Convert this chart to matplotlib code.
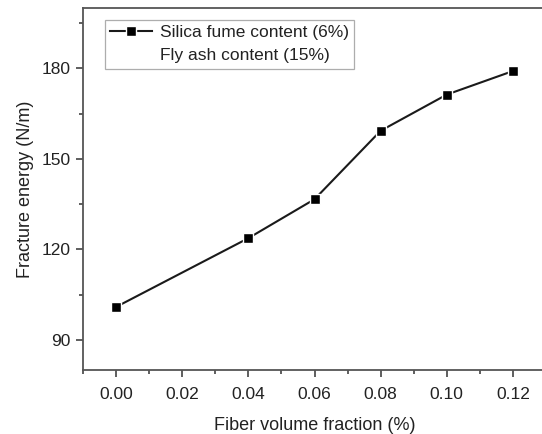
import matplotlib.pyplot as plt
from matplotlib.lines import Line2D
from matplotlib.ticker import MultipleLocator

plt.rcParams['font.family'] = ['Liberation Sans', 'DejaVu Sans']

# Data
fiber_fraction = [0.00, 0.04, 0.06, 0.08, 0.10, 0.12]
fracture_energy = [100.9, 123.7, 136.6, 159.3, 171.3, 179.1]
series_label = "Silica fume content (6%)"
extra_label = "Fly ash content (15%)"

fig = plt.figure(figsize=(5.42, 4.34), dpi=100)
ax = fig.add_axes([83 / 542, 64 / 434, 463 / 542, 362 / 434])

ax.plot(fiber_fraction, fracture_energy, color='#1a1a1a', lw=1.5,
        marker='s', ms=7.5, mfc='black', mec='white', mew=1.0,
        label=series_label)

ax.set_xlim(-0.01, 0.13)
ax.set_ylim(80, 200)
ax.xaxis.set_major_locator(MultipleLocator(0.02))
ax.xaxis.set_minor_locator(MultipleLocator(0.01))
ax.yaxis.set_major_locator(MultipleLocator(30))
ax.yaxis.set_minor_locator(MultipleLocator(15))
ax.set_xticks([0.00, 0.02, 0.04, 0.06, 0.08, 0.10, 0.12])
ax.set_xticklabels(['0.00', '0.02', '0.04', '0.06', '0.08', '0.10', '0.12'])

ax.tick_params(which='both', direction='out', colors='#333333',
               labelcolor='#222222', labelsize=12.5, width=1.1)
ax.tick_params(which='major', length=5)
ax.tick_params(axis='x', which='major', pad=7)
ax.tick_params(axis='y', which='major', pad=4)
ax.tick_params(which='minor', length=3)
for side in ['left', 'bottom', 'top', 'right']:
    ax.spines[side].set_color('#555555')
    ax.spines[side].set_linewidth(1.3)

ax.set_xlabel("Fiber volume fraction (%)", fontsize=13, color='#222222', labelpad=11)
ax.set_ylabel("Fracture energy (N/m)", fontsize=13, color='#222222', labelpad=5)

handles = [
    Line2D([], [], color='#1a1a1a', lw=1.5, marker='s', ms=7.5,
           mfc='black', mec='white', mew=1.0),
    Line2D([], [], color='none'),
]
leg = ax.legend(handles, [series_label, extra_label], loc='upper left',
                bbox_to_anchor=(22 / 463, 1 - 12 / 362), fontsize=12.5,
                frameon=True, fancybox=False, handlelength=2.4,
                handletextpad=0.45, borderpad=0.3, labelspacing=0.45,
                borderaxespad=0)
leg.get_frame().set_edgecolor('#999999')
leg.get_frame().set_linewidth(0.9)
for t in leg.get_texts():
    t.set_color('#222222')

fig.savefig("out.png", dpi=100)
